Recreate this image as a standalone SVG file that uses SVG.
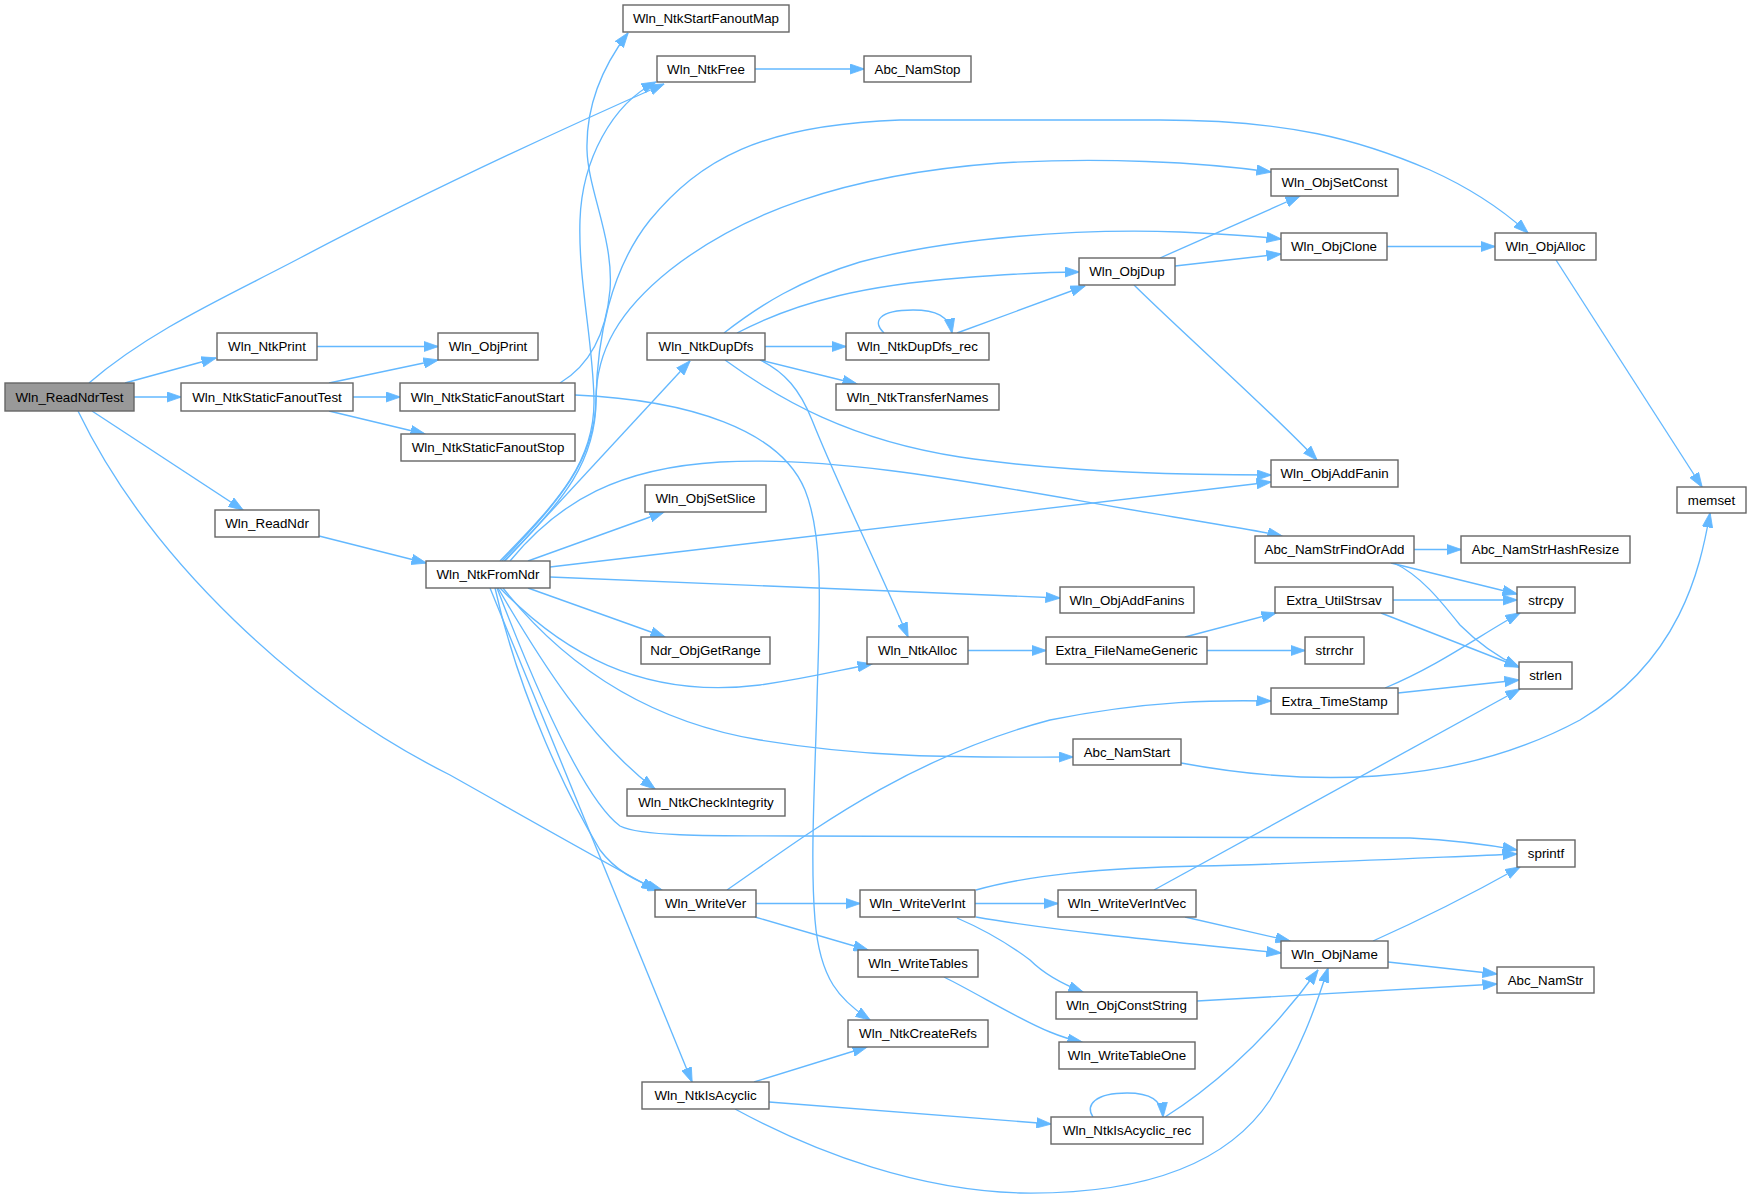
<svg xmlns="http://www.w3.org/2000/svg" width="1752" height="1198" viewBox="0 0 1752 1198">
<defs>
<style>
.node rect{fill:#ffffff;stroke:#666666;stroke-width:1.4}
.node.root rect{fill:#999999}
.node text{font-family:"Liberation Sans",Arial,sans-serif;font-size:13.33px;fill:#000;text-anchor:middle}
.edges path{fill:none;stroke:#63b8ff;stroke-width:1.35;marker-end:url(#ah)}
</style>
<marker id="ah" markerUnits="userSpaceOnUse" markerWidth="15" markerHeight="11" viewBox="0 0 15 11" refX="14.5" refY="5.5" orient="auto"><path d="M0,0.3 L15,5.5 L0,10.7 z" fill="#63b8ff" stroke="#63b8ff" stroke-width="0.8"/></marker>
</defs>
<rect width="1752" height="1198" fill="#ffffff"/>
<g id="edges" class="edges">
<path d="M89,383 C150,330 230,295 300,258 C420,195 560,130 664,84"/>
<path d="M125,383 L216,358"/>
<path d="M134,397 L181,397"/>
<path d="M92,411 L243,510"/>
<path d="M78,411 C150,560 300,700 450,775 C530,820 600,860 656,890"/>
<path d="M317,346.5 L438,346.5"/>
<path d="M329,383 L438,360"/>
<path d="M353,397 L400,397"/>
<path d="M329,411 L425,434"/>
<path d="M560,383 C590,365 606,335 610,290 C614,240 588,190 587,150 C586,110 600,70 628,33"/>
<path d="M575,395 C690,400 780,430 805,490 C825,540 819,620 817,700 C815,780 810,860 815,920 C820,980 840,1000 870,1020"/>
<path d="M319,536 L426,563"/>
<path d="M500,561 C560,500 595,460 594,400 C593,340 578,280 580,220 C582,160 612,104 656,82"/>
<path d="M502,561 C560,500 595,460 596,400 C597,340 610,270 650,220 C700,160 760,125 900,120 L1160,120 C1290,120 1360,140 1430,170 C1470,188 1505,212 1528,233"/>
<path d="M504,561 C565,500 596,460 596,400 C596,350 620,310 670,270 C740,215 840,175 1000,163 C1100,157 1200,162 1271,172"/>
<path d="M505,561 L690,361"/>
<path d="M528,561 L664,512"/>
<path d="M510,561 C560,500 620,468 720,462 C850,455 1000,488 1180,518 C1220,525 1255,530 1282,536"/>
<path d="M550,567 L1271,482"/>
<path d="M550,577 L1060,598"/>
<path d="M528,588 L665,637"/>
<path d="M500,588 C560,650 640,700 760,685 C810,678 840,670 872,664"/>
<path d="M503,588 C560,660 640,720 760,740 C880,760 980,757 1073,757"/>
<path d="M498,588 C540,660 590,740 655,789"/>
<path d="M497,588 C540,700 585,800 620,826 C640,836 700,836 800,836 L1410,838 C1450,840 1490,845 1517,850"/>
<path d="M495,588 C520,700 570,800 600,850 C615,870 635,882 662,890"/>
<path d="M490,588 L692,1082"/>
<path d="M724,333 C760,305 800,280 860,262 C950,238 1080,228 1180,232 C1220,234 1255,236 1281,239"/>
<path d="M737,333 C800,300 870,285 960,278 C1010,274 1050,272 1079,272"/>
<path d="M765,346.5 L846,346.5"/>
<path d="M760,360 L857,384"/>
<path d="M725,360 C780,400 850,440 960,457 C1060,472 1180,475 1271,475"/>
<path d="M760,360 C785,372 800,390 812,420 C840,490 880,570 908,637"/>
<path d="M884,333 C872,322 878,310 913,310 C936,310 949,316 952,333"/>
<path d="M957,333 L1085,286"/>
<path d="M1160,258 L1300,196"/>
<path d="M1175,266 L1281,254"/>
<path d="M1134,285 C1190,340 1270,410 1317,460"/>
<path d="M1387,246.5 L1495,246.5"/>
<path d="M1556,260 L1702,487"/>
<path d="M755,69 L864,69"/>
<path d="M1414,549.5 L1461,549.5"/>
<path d="M1391,563 L1517,594"/>
<path d="M1394,563 C1420,575 1440,600 1460,625 C1480,645 1500,658 1519,667"/>
<path d="M1393,600 L1517,600"/>
<path d="M1381,613 L1519,667"/>
<path d="M1185,637 L1276,613"/>
<path d="M1207,650.5 L1305,650.5"/>
<path d="M968,650.5 L1046,650.5"/>
<path d="M1385,688 C1440,665 1480,635 1520,613"/>
<path d="M1398,693 L1519,680"/>
<path d="M1181,763 C1300,785 1450,790 1580,720 C1680,660 1700,570 1710,513"/>
<path d="M727,890 C800,840 900,760 1050,720 C1150,700 1220,700 1271,701"/>
<path d="M756,903.5 L860,903.5"/>
<path d="M755,917 L868,950"/>
<path d="M976,890 C1030,875 1100,868 1200,866 C1300,864 1420,858 1517,854"/>
<path d="M975,903.5 L1058,903.5"/>
<path d="M976,917 C1050,930 1150,940 1281,953"/>
<path d="M957,918 C985,930 1010,945 1030,960 C1045,975 1065,985 1083,992"/>
<path d="M1154,890 L1520,689"/>
<path d="M1185,917 L1290,941"/>
<path d="M944,977 C980,995 1020,1020 1050,1032 C1062,1037 1072,1040 1082,1042"/>
<path d="M1197,1001 L1497,984"/>
<path d="M1373,941 C1420,920 1470,895 1520,867"/>
<path d="M1388,962 L1497,974"/>
<path d="M754,1082 L867,1047"/>
<path d="M769,1102 L1051,1124"/>
<path d="M735,1109 C820,1155 920,1190 1020,1193 C1150,1195 1230,1160 1270,1100 C1300,1050 1315,1010 1328,968"/>
<path d="M1093,1117 C1085,1105 1095,1093 1127,1093 C1150,1093 1162,1100 1163,1117"/>
<path d="M1165,1117 C1200,1095 1260,1050 1318,970"/>
</g>
<g id="n1" class="node root"><rect x="5" y="383" width="129" height="28"/><text x="69.5" y="401.7">Wln_ReadNdrTest</text></g>
<g id="n2" class="node"><rect x="217" y="333" width="100" height="27"/><text x="267" y="351.2">Wln_NtkPrint</text></g>
<g id="n3" class="node"><rect x="438" y="333" width="100" height="27"/><text x="488" y="351.2">Wln_ObjPrint</text></g>
<g id="n4" class="node"><rect x="181" y="383" width="172" height="28"/><text x="267" y="401.7">Wln_NtkStaticFanoutTest</text></g>
<g id="n5" class="node"><rect x="400" y="383" width="175" height="28"/><text x="487.5" y="401.7">Wln_NtkStaticFanoutStart</text></g>
<g id="n6" class="node"><rect x="401" y="434" width="174" height="27"/><text x="488" y="452.2">Wln_NtkStaticFanoutStop</text></g>
<g id="n7" class="node"><rect x="215" y="510" width="104" height="27"/><text x="267" y="528.2">Wln_ReadNdr</text></g>
<g id="n8" class="node"><rect x="426" y="561" width="124" height="27"/><text x="488" y="579.2">Wln_NtkFromNdr</text></g>
<g id="n9" class="node"><rect x="623" y="5" width="166" height="27"/><text x="706" y="23.2">Wln_NtkStartFanoutMap</text></g>
<g id="n10" class="node"><rect x="657" y="56" width="98" height="26"/><text x="706" y="73.7">Wln_NtkFree</text></g>
<g id="n11" class="node"><rect x="864" y="56" width="107" height="26"/><text x="917.5" y="73.7">Abc_NamStop</text></g>
<g id="n12" class="node"><rect x="1079" y="258" width="96" height="27"/><text x="1127" y="276.2">Wln_ObjDup</text></g>
<g id="n13" class="node"><rect x="647" y="333" width="118" height="27"/><text x="706" y="351.2">Wln_NtkDupDfs</text></g>
<g id="n14" class="node"><rect x="846" y="333" width="143" height="27"/><text x="917.5" y="351.2">Wln_NtkDupDfs_rec</text></g>
<g id="n15" class="node"><rect x="836" y="384" width="163" height="26"/><text x="917.5" y="401.7">Wln_NtkTransferNames</text></g>
<g id="n16" class="node"><rect x="1271" y="169" width="127" height="27"/><text x="1334.5" y="187.2">Wln_ObjSetConst</text></g>
<g id="n17" class="node"><rect x="1281" y="233" width="106" height="27"/><text x="1334" y="251.2">Wln_ObjClone</text></g>
<g id="n18" class="node"><rect x="1495" y="233" width="101" height="27"/><text x="1545.5" y="251.2">Wln_ObjAlloc</text></g>
<g id="n19" class="node"><rect x="645" y="485" width="121" height="27"/><text x="705.5" y="503.2">Wln_ObjSetSlice</text></g>
<g id="n20" class="node"><rect x="1060" y="587" width="134" height="26"/><text x="1127" y="604.7">Wln_ObjAddFanins</text></g>
<g id="n21" class="node"><rect x="641" y="637" width="129" height="27"/><text x="705.5" y="655.2">Ndr_ObjGetRange</text></g>
<g id="n22" class="node"><rect x="867" y="637" width="101" height="27"/><text x="917.5" y="655.2">Wln_NtkAlloc</text></g>
<g id="n23" class="node"><rect x="1046" y="637" width="161" height="27"/><text x="1126.5" y="655.2">Extra_FileNameGeneric</text></g>
<g id="n24" class="node"><rect x="1073" y="739" width="108" height="26"/><text x="1127" y="756.7">Abc_NamStart</text></g>
<g id="n25" class="node"><rect x="627" y="789" width="158" height="27"/><text x="706" y="807.2">Wln_NtkCheckIntegrity</text></g>
<g id="n26" class="node"><rect x="1271" y="460" width="127" height="27"/><text x="1334.5" y="478.2">Wln_ObjAddFanin</text></g>
<g id="n27" class="node"><rect x="1677" y="487" width="69" height="26"/><text x="1711.5" y="504.7">memset</text></g>
<g id="n28" class="node"><rect x="1255" y="536" width="159" height="27"/><text x="1334.5" y="554.2">Abc_NamStrFindOrAdd</text></g>
<g id="n29" class="node"><rect x="1461" y="536" width="169" height="27"/><text x="1545.5" y="554.2">Abc_NamStrHashResize</text></g>
<g id="n30" class="node"><rect x="1275" y="587" width="118" height="26"/><text x="1334" y="604.7">Extra_UtilStrsav</text></g>
<g id="n31" class="node"><rect x="1517" y="587" width="58" height="26"/><text x="1546" y="604.7">strcpy</text></g>
<g id="n32" class="node"><rect x="1305" y="637" width="59" height="27"/><text x="1334.5" y="655.2">strrchr</text></g>
<g id="n33" class="node"><rect x="1519" y="662" width="53" height="27"/><text x="1545.5" y="680.2">strlen</text></g>
<g id="n34" class="node"><rect x="1271" y="688" width="127" height="26"/><text x="1334.5" y="705.7">Extra_TimeStamp</text></g>
<g id="n35" class="node"><rect x="655" y="890" width="101" height="27"/><text x="705.5" y="908.2">Wln_WriteVer</text></g>
<g id="n36" class="node"><rect x="860" y="890" width="115" height="27"/><text x="917.5" y="908.2">Wln_WriteVerInt</text></g>
<g id="n37" class="node"><rect x="1058" y="890" width="138" height="27"/><text x="1127" y="908.2">Wln_WriteVerIntVec</text></g>
<g id="n38" class="node"><rect x="858" y="950" width="120" height="27"/><text x="918" y="968.2">Wln_WriteTables</text></g>
<g id="n39" class="node"><rect x="1056" y="992" width="141" height="27"/><text x="1126.5" y="1010.2">Wln_ObjConstString</text></g>
<g id="n40" class="node"><rect x="848" y="1020" width="140" height="27"/><text x="918" y="1038.2">Wln_NtkCreateRefs</text></g>
<g id="n41" class="node"><rect x="1059" y="1042" width="136" height="27"/><text x="1127" y="1060.2">Wln_WriteTableOne</text></g>
<g id="n42" class="node"><rect x="642" y="1082" width="127" height="27"/><text x="705.5" y="1100.2">Wln_NtkIsAcyclic</text></g>
<g id="n43" class="node"><rect x="1051" y="1117" width="152" height="27"/><text x="1127" y="1135.2">Wln_NtkIsAcyclic_rec</text></g>
<g id="n44" class="node"><rect x="1517" y="840" width="58" height="27"/><text x="1546" y="858.2">sprintf</text></g>
<g id="n45" class="node"><rect x="1281" y="941" width="107" height="27"/><text x="1334.5" y="959.2">Wln_ObjName</text></g>
<g id="n46" class="node"><rect x="1497" y="967" width="97" height="26"/><text x="1545.5" y="984.7">Abc_NamStr</text></g>
</svg>
